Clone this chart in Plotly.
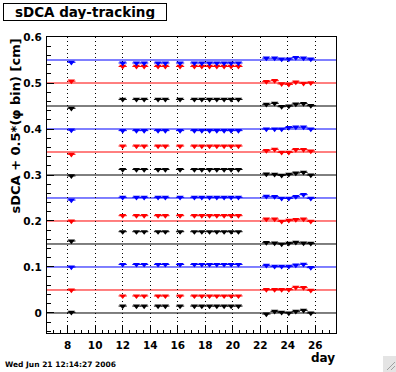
import plotly.graph_objects as go

# ---------------- data ----------------
days = [8.27, 12.0, 13.0, 13.56, 14.57, 15.1, 16.17, 17.21, 17.75, 18.31, 18.84,
        19.37, 19.88, 20.41, 22.44, 23.04, 23.55, 24.07, 24.58, 25.14, 25.67]

phi_bins = list(range(12))
baselines = [0.0, 0.05, 0.10, 0.15, 0.20, 0.25, 0.30, 0.35, 0.40, 0.45, 0.50, 0.55]
bin_colors = ["#000000", "#ff0000", "#0000ff"] * 4

first_point = [0.0015, 0.050, 0.100, 0.1565, 0.200, 0.2455,
               0.298, 0.345, 0.3975, 0.445, 0.504, 0.545]
middle_level = [0.015, 0.037, 0.1055, 0.1767, 0.2115, 0.2515,
                0.312, 0.363, 0.3965, 0.4643, 0.536, 0.5435]
late_points = [
    [-0.0022, 0.0036, 0.0014, 0.0, 0.0036, 0.0058, 0.0],
    [0.0507, 0.0507, 0.0507, 0.0507, 0.0558, 0.0551, 0.0493],
    [0.1036, 0.1014, 0.1014, 0.1014, 0.1043, 0.1058, 0.0986],
    [0.1529, 0.1522, 0.1500, 0.1514, 0.1536, 0.1522, 0.1514],
    [0.2043, 0.2043, 0.1993, 0.2014, 0.2029, 0.2043, 0.1993],
    [0.2536, 0.2529, 0.2493, 0.2493, 0.2529, 0.2572, 0.2493],
    [0.3022, 0.3014, 0.2993, 0.3014, 0.3043, 0.3058, 0.3000],
    [0.3529, 0.3558, 0.3493, 0.3493, 0.3551, 0.3551, 0.3522],
    [0.4000, 0.4000, 0.4000, 0.4030, 0.4040, 0.4040, 0.4000],
    [0.4536, 0.4558, 0.4485, 0.4500, 0.4543, 0.4551, 0.4507],
    [0.5030, 0.5050, 0.4980, 0.4970, 0.5020, 0.4995, 0.5005],
    [0.5540, 0.5540, 0.5520, 0.5520, 0.5550, 0.5540, 0.5520],
]
n_middle = 13
x_error = 0.3

x_ticks = [8, 10, 12, 14, 16, 18, 20, 22, 24, 26]
y_ticks = [0, 0.1, 0.2, 0.3, 0.4, 0.5, 0.6]

# ---------------- layout geometry ----------------
W, H = 396, 372
L, R, T, B = 47, 60, 37, 39
PW, PH = W - L - R, H - T - B


def px_x(x):
    return (x - L) / PW


def px_y(y):
    return 1 - (y - T) / PH


FONT = "DejaVu Sans"

fig = go.Figure()

for b in phi_bins:
    ys = [first_point[b]] + [middle_level[b]] * n_middle + late_points[b]
    fig.add_trace(go.Scatter(
        x=days, y=ys, mode="markers",
        marker=dict(symbol="triangle-down", size=6.3, color=bin_colors[b], line=dict(width=0)),
        error_x=dict(type="constant", value=x_error, thickness=1, width=0, color=bin_colors[b]),
        showlegend=False, cliponaxis=True,
    ))

shapes = []
for b in phi_bins:
    shapes.append(dict(type="line", xref="paper", x0=0, x1=1, yref="y",
                       y0=baselines[b], y1=baselines[b], layer="between",
                       line=dict(color=bin_colors[b], width=1)))

# resize grip in corner
shapes.append(dict(type="rect", xref="paper", yref="paper",
                   x0=px_x(383), x1=px_x(396), y0=px_y(372), y1=px_y(356),
                   fillcolor="#e4e4e4", line=dict(width=0), layer="above"))
for off in (0, 4):
    shapes.append(dict(type="line", xref="paper", yref="paper",
                       x0=px_x(387 + off), y0=px_y(370), x1=px_x(395), y1=px_y(362 + off),
                       line=dict(color="#a0a0a0", width=1), layer="above"))

annotations = [
    dict(text="sDCA day-tracking", xref="paper", yref="paper",
         x=px_x(3), y=px_y(3), xanchor="left", yanchor="top",
         showarrow=False, font=dict(family=FONT, size=13.5, color="black", weight="bold"),
         bordercolor="black", borderwidth=1, borderpad=1, bgcolor="white",
         width=160, height=14),
    dict(text="sDCA + 0.5*(φ bin) [cm]", xref="paper", yref="paper",
         x=px_x(15), y=1, xanchor="center", yanchor="top", textangle=-90,
         showarrow=False, font=dict(family=FONT, size=13, color="black", weight="bold")),
    dict(text="day", xref="paper", yref="paper",
         x=px_x(337), y=px_y(349), xanchor="right", yanchor="top",
         showarrow=False, font=dict(family=FONT, size=12, color="black", weight="bold")),
    dict(text="Wed Jun 21 12:14:27 2006", xref="paper", yref="paper",
         x=px_x(3), y=px_y(358), xanchor="left", yanchor="top",
         showarrow=False, font=dict(family=FONT, size=7.5, color="black", weight="bold")),
]

axis_common = dict(showline=True, linecolor="black", linewidth=1, mirror=True,
                   ticks="inside", tickcolor="black", tickwidth=1, ticklen=7,
                   zeroline=False,
                   tickfont=dict(family=FONT, size=10.5, color="black", weight="bold"))

fig.update_layout(
    width=W, height=H,
    margin=dict(l=L, r=R, t=T, b=B, pad=0),
    paper_bgcolor="white", plot_bgcolor="white",
    xaxis=dict(range=[6.5, 27.5], tickmode="array", tickvals=x_ticks,
               showgrid=True, gridcolor="black", gridwidth=1, griddash="1px,3px",
               minor=dict(dtick=0.5, tick0=0, ticks="inside", ticklen=3, tickcolor="black", showgrid=False),
               ticklabelstandoff=2, **axis_common),
    yaxis=dict(range=[-0.0435, 0.6], tickmode="array", tickvals=y_ticks,
               showgrid=False,
               minor=dict(dtick=0.02, tick0=0, ticks="inside", ticklen=3.5, tickcolor="black", showgrid=False),
               ticklabelstandoff=2, **axis_common),
    shapes=shapes, annotations=annotations,
)

fig.write_html("out.html", config={"displayModeBar": False},
               post_script="document.documentElement.style.margin='0';"
                           "document.body.style.margin='0';document.body.style.padding='0';")
